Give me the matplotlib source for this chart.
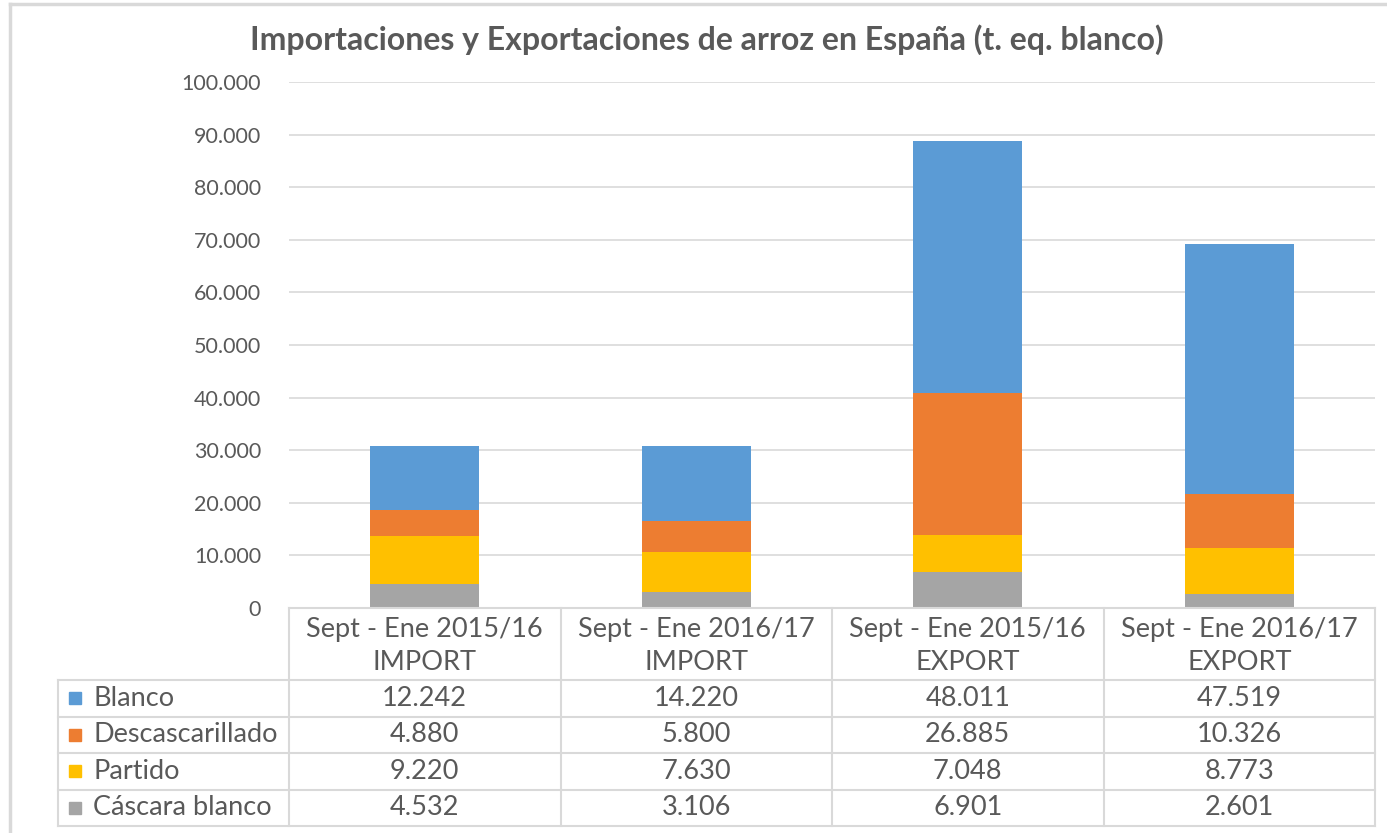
import matplotlib
matplotlib.use("Agg")
from matplotlib import pyplot as plt

plt.rcParams['font.family'] = ['Lato', 'DejaVu Sans']

# Data
periods = ["Sept - Ene 2015/16", "Sept - Ene 2016/17", "Sept - Ene 2015/16", "Sept - Ene 2016/17"]
flows = ["IMPORT", "IMPORT", "EXPORT", "EXPORT"]
series = ["Blanco", "Descascarillado", "Partido", "Cáscara blanco"]
blanco = [12242, 14220, 48011, 47519]
descascarillado = [4880, 5800, 26885, 10326]
partido = [9220, 7630, 7048, 8773]
cascara = [4532, 3106, 6901, 2601]
colors = ["#5B9BD5", "#ED7D31", "#FFC000", "#A5A5A5"]
yticks = list(range(0, 100001, 10000))

W, H = 1387, 833
fig = plt.figure(figsize=(W / 100, H / 100), dpi=100)
txt = "#595959"
grid = "#D9D9D9"

# pixel helper for placing axes
def box(x0, y0, x1, y1):
    return [x0 / W, 1 - y1 / H, (x1 - x0) / W, (y1 - y0) / H]

ax = fig.add_axes(box(289, 82, 1375, 608))
x = list(range(len(periods)))
values = [blanco, descascarillado, partido, cascara]
# stack bottom-up: cascara, partido, descascarillado, blanco
bottom = [0] * len(x)
for name, vals, col in reversed(list(zip(series, values, colors))):
    ax.bar(x, vals, width=0.4, bottom=bottom, color=col, zorder=3)
    bottom = [b + v for b, v in zip(bottom, vals)]

ax.set_xlim(-0.5, len(x) - 0.5)
ax.set_ylim(0, 100000)
ax.set_yticks(yticks)
ax.set_yticklabels([f"{v:,}".replace(",", ".") for v in yticks])
ax.tick_params(axis="y", length=0, pad=20, labelsize=15.5, labelcolor=txt)
ax.set_xticks([])
ax.grid(axis="y", color=grid, linewidth=1.2, zorder=0)
for s in ax.spines.values():
    s.set_visible(False)

fig.text(707 / W, 1 - 40 / H, "Importaciones y Exportaciones de arroz en España (t. eq. blanco)",
         ha="center", va="center", fontsize=23, fontweight="bold", color=txt)

# data table drawn in pixel coordinates
tab = fig.add_axes([0, 0, 1, 1])
tab.set_xlim(0, W)
tab.set_ylim(H, 0)
tab.axis("off")

left, c0, right = 58, 289, 1375
cw = (right - c0) / len(x)
cols = [c0 + i * cw for i in range(len(x) + 1)]
top, head = 608, 680
rh = 36.5
rows = [head + i * rh for i in range(len(series) + 1)]

tab.plot([c0, right], [top, top], color=grid, lw=1.5)
for r in rows:
    tab.plot([left, right], [r, r], color=grid, lw=1.5)
for c in cols:
    tab.plot([c, c], [top, rows[-1]], color=grid, lw=1.5)
tab.plot([left, left], [head, rows[-1]], color=grid, lw=1.5)

fs = 19.5
for i in x:
    cx = (cols[i] + cols[i + 1]) / 2
    tab.text(cx, 630, periods[i], ha="center", va="center", fontsize=fs, color=txt)
    tab.text(cx, 662, flows[i], ha="center", va="center", fontsize=fs, color=txt)

for j, (name, vals, col) in enumerate(zip(series, values, colors)):
    cy = (rows[j] + rows[j + 1]) / 2
    tab.plot([75], [cy], marker="s", markersize=8, color=col, linestyle="none")
    tab.text(93, cy, name, ha="left", va="center", fontsize=fs, color=txt)
    for i in x:
        cx = (cols[i] + cols[i + 1]) / 2
        tab.text(cx, cy, f"{vals[i]:,}".replace(",", "."), ha="center", va="center",
                 fontsize=fs, color=txt)

# outer chart frame
tab.plot([10, 10], [4, H], color=grid, lw=2.5)
tab.plot([10, W], [4, 4], color=grid, lw=2.5)

fig.savefig("out.png", dpi=100)
